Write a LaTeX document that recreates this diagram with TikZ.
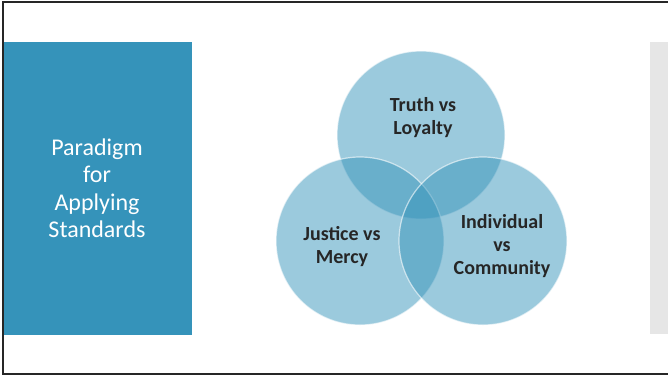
\documentclass[tikz,border=0pt]{standalone}
\usepackage{fontspec}
\setmainfont{Carlito}
\definecolor{boxblue}{HTML}{3593BA}
\definecolor{panelgray}{HTML}{E6E6E6}
\definecolor{circblue}{HTML}{3593BA}
\definecolor{txtdark}{HTML}{262626}
\tikzset{
  venn/.style={circle, minimum size=168pt, inner sep=0pt, fill=circblue, fill opacity=0.49, draw=white, draw opacity=0.6, line width=1.2pt},
  venntext/.style={text=txtdark, font=\fontsize{20}{23}\selectfont\bfseries, align=center, text opacity=1},
  sidetext/.style={text=white, font=\fontsize{24}{27.5}\selectfont, align=center}
}
\begin{document}
\begin{tikzpicture}[x=1pt,y=-1pt]
\useasboundingbox (0,0) rectangle (668,376);
\fill[white] (0,0) rectangle (668,376);
% left panel
\node[fill=boxblue, minimum width=188pt, minimum height=293pt, inner sep=0pt, anchor=north west] (leftbox) at (4,42) {};
\node[sidetext] (lefttxt) at (97,188) {Paradigm\\for\\Applying\\Standards};
% right panel
\node[fill=panelgray, minimum width=30pt, minimum height=292pt, inner sep=0pt, anchor=north west] (rightbox) at (650,42) {};
% circles
\node[venn] (ctop) at (421,135) {};
\node[venn] (cleft) at (360,241) {};
\node[venn] (cright) at (483,241) {};
\node[venntext] (ttop) at (423,118) {Truth vs\\Loyalty};
\node[venntext] (tleft) at (342,247) {Justice vs\\Mercy};
\node[venntext] (tright) at (502,246) {Individual\\vs\\Community};
% outer frame
\draw[line width=2pt, color=black!85] (680,1.5) -- (2.5,1.5) -- (2.5,374) -- (680,374);
\end{tikzpicture}
\end{document}
